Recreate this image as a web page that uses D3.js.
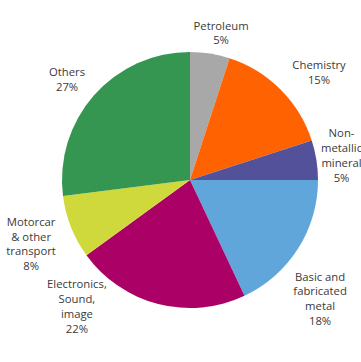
<!DOCTYPE html>
<html>
<head>
<meta charset="utf-8">
<script src="https://cdn.jsdelivr.net/npm/d3@7"></script>
<style>
  html, body { margin: 0; padding: 0; background: #fff; }
  svg { display: block; }
  text { font-family: "Open Sans", "Noto Sans", sans-serif; font-size: 11.3px; fill: #3a3a3a; }
</style>
</head>
<body>
<svg id="chart" width="361" height="362"></svg>
<script>
const categories = ["Petroleum", "Chemistry", "Non-metallic mineral", "Basic and fabricated metal", "Electronics, Sound, image", "Motorcar & other transport", "Others"];
const values = [5, 15, 5, 18, 22, 8, 27];
const labelLines = [
  ["Petroleum", "5%"],
  ["Chemistry", "15%"],
  ["Non-", "metallic", "mineral", "5%"],
  ["Basic and", "fabricated", "metal", "18%"],
  ["Electronics,", "Sound,", "image", "22%"],
  ["Motorcar", "& other", "transport", "8%"],
  ["Others", "27%"]
];
const colors = ["#a8a8a8", "#ff6200", "#525199", "#60a6da", "#ab0066", "#d0d93c", "#349651"];
// label placement in polar form: angle (degrees clockwise from top), distance as multiple of radius
const labelAngle = [11.9, 50.1, 80.6, 132.3, 221.9, 248.2, 309.3];
const labelDist = [1.177, 1.314, 1.20, 1.374, 1.323, 1.337, 1.241];

const svg = d3.select("#chart");
const cx = 190, cy = 180, R = 128;
const g = svg.append("g").attr("transform", `translate(${cx},${cy})`);

const pie = d3.pie().sort(null).value(d => d.value).startAngle(0).endAngle(2 * Math.PI);
const data = categories.map((c, i) => ({ name: c, value: values[i], color: colors[i], lines: labelLines[i], ang: labelAngle[i], dist: labelDist[i] }));
const arcs = pie(data);
const arc = d3.arc().innerRadius(0).outerRadius(R);

g.selectAll("path.slice").data(arcs).enter().append("path")
  .attr("class", "slice")
  .attr("d", arc)
  .attr("fill", d => d.data.color);

const lh = 14.8;
const lab = g.selectAll("g.lab").data(arcs).enter().append("g")
  .attr("class", "lab")
  .attr("transform", d => {
    const a = d.data.ang * Math.PI / 180;
    const r = R * d.data.dist;
    return `translate(${r * Math.sin(a)},${-r * Math.cos(a)})`;
  });
lab.each(function(d) {
  const n = d.data.lines.length;
  d3.select(this).selectAll("text").data(d.data.lines).enter().append("text")
    .attr("text-anchor", "middle")
    .attr("dominant-baseline", "central")
    .attr("y", (t, i) => (i - (n - 1) / 2) * lh)
    .text(t => t);
});
</script>
</body>
</html>
